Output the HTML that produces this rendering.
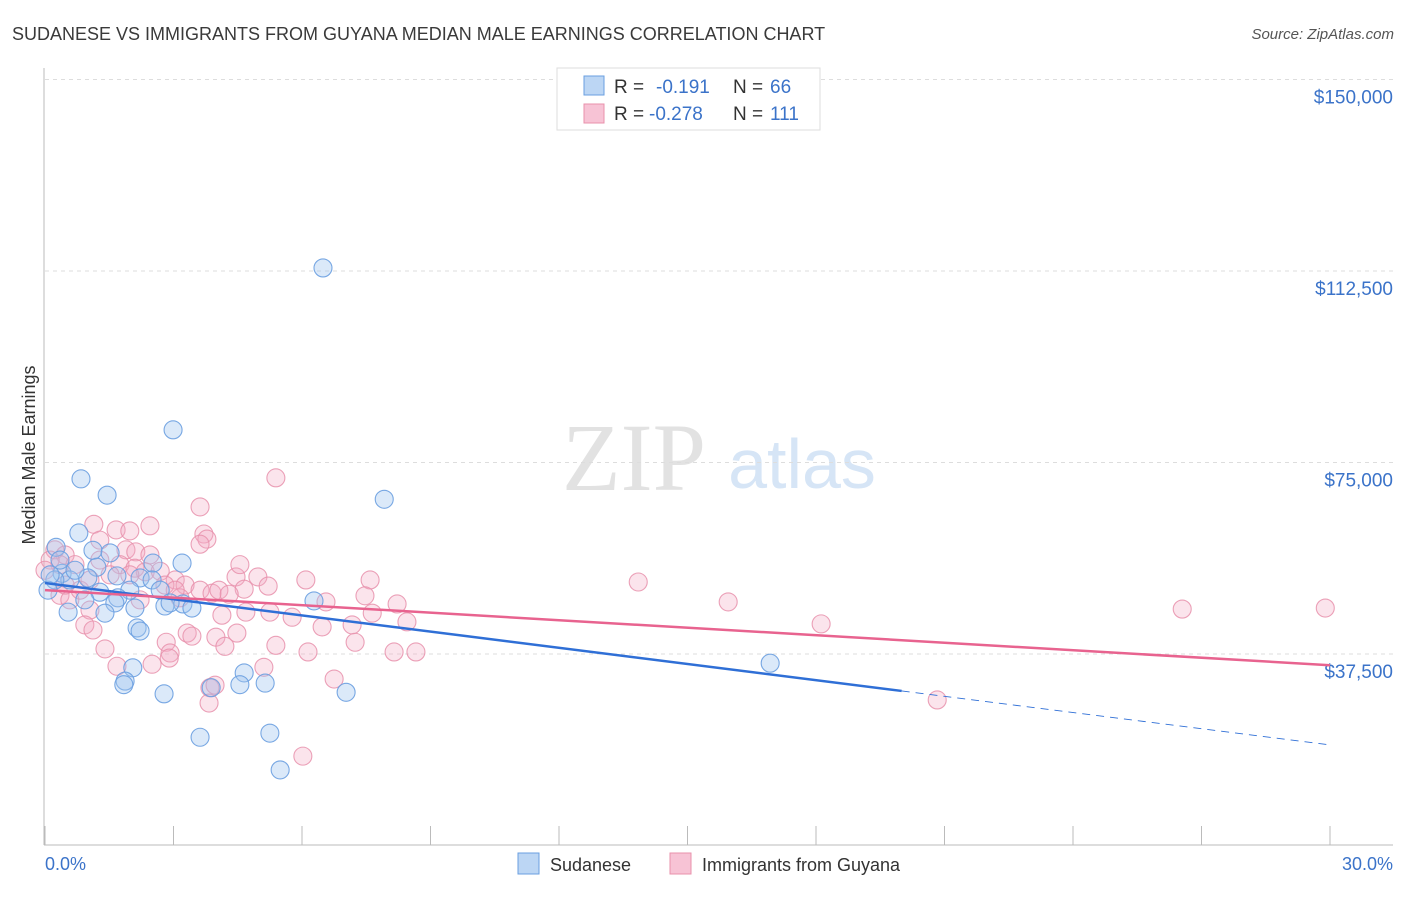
<!DOCTYPE html>
<html><head><meta charset="utf-8"><style>
body{margin:0;background:#fff;font-family:"Liberation Sans",sans-serif}
</style></head><body>
<svg width="1406" height="892" xmlns="http://www.w3.org/2000/svg">
<text x="12" y="40" font-size="18" fill="#3a3a3a">SUDANESE VS IMMIGRANTS FROM GUYANA MEDIAN MALE EARNINGS CORRELATION CHART</text>
<text x="1394" y="39" font-size="15" fill="#555" font-style="italic" text-anchor="end">Source: ZipAtlas.com</text>
<text x="634" y="490" font-size="96" fill="#e2e2e2" font-family="Liberation Serif,serif" text-anchor="middle">ZIP</text>
<text x="802" y="488" font-size="70" fill="#d6e5f6" text-anchor="middle">atlas</text>
<g id="grid"></g>
<g id="axes"></g>
<g id="pts"></g>
<g id="trend"></g>
<text transform="translate(35,455) rotate(-90)" font-size="18" fill="#333" text-anchor="middle">Median Male Earnings</text>
<text x="45" y="870" font-size="18" fill="#3b73c9">0.0%</text>
<text x="1393" y="870" font-size="18" fill="#3b73c9" text-anchor="end">30.0%</text>
<g>
<rect x="557" y="68" width="263" height="62" fill="#fff" stroke="#ddd"/>
<rect x="584" y="76" width="20" height="19" fill="#a0c4f0" fill-opacity="0.7" stroke="#6a9fe0"/>
<rect x="584" y="104" width="20" height="19" fill="#f4aac3" fill-opacity="0.7" stroke="#e890ab"/>
<text x="614" y="93" font-size="19" fill="#333">R =</text>
<text x="656" y="93" font-size="19" fill="#3b73c9">-0.191</text>
<text x="733" y="93" font-size="19" fill="#333">N =</text>
<text x="770" y="93" font-size="19" fill="#3b73c9">66</text>
<text x="614" y="120" font-size="19" fill="#333">R =</text>
<text x="649" y="120" font-size="19" fill="#3b73c9">-0.278</text>
<text x="733" y="120" font-size="19" fill="#333">N =</text>
<text x="770" y="120" font-size="19" fill="#3b73c9">111</text>
</g>
<g><rect x="518" y="853" width="21" height="21" fill="#a0c4f0" fill-opacity="0.7" stroke="#6a9fe0"/><text x="550" y="871" font-size="18" fill="#333">Sudanese</text></g>
<g><rect x="670" y="853" width="21" height="21" fill="#f4aac3" fill-opacity="0.7" stroke="#e890ab"/><text x="702" y="871" font-size="18" fill="#333">Immigrants from Guyana</text></g>
</svg>
<script>
const yTicks=[37500,75000,112500,150000];
const yTickLabels=["$37,500","$75,000","$112,500","$150,000"];
const blueX=[6.49,2.99,0.84,1.45,7.92,0.79,0.26,1.12,1.52,3.20,2.52,1.21,0.40,0.58,1.00,1.68,2.22,2.50,2.69,1.98,1.28,1.70,1.63,2.10,2.80,3.22,3.43,2.92,0.54,1.40,6.28,2.15,2.22,16.93,2.05,4.65,5.14,1.87,1.84,2.78,3.88,4.55,7.03,3.62,5.25,5.49,0.23,0.07,0.35,0.70,0.93,0.12];
const blueY=[113.1,81.4,71.8,68.6,67.8,61.2,58.4,57.8,57.3,55.3,55.3,54.5,53.3,52.0,52.4,52.8,52.4,52.0,50.0,50.0,49.6,48.5,47.5,46.5,46.9,47.3,46.5,47.5,45.7,45.5,47.9,42.6,42.0,35.7,34.8,33.8,31.8,32.2,31.5,29.7,30.9,31.5,30.0,21.2,22.0,14.8,52.0,50.0,55.9,53.9,48.1,53.0];
const pinkX=[5.39,3.62,1.14,2.45,1.66,1.98,3.71,3.78,3.62,0.23,0.47,1.89,2.12,2.45,0.35,0.70,1.75,2.10,2.34,2.69,3.04,3.27,3.62,4.46,4.97,6.09,7.59,13.85,4.65,5.21,3.90,4.06,4.30,3.15,6.56,7.47,8.22,8.45,7.64,5.77,5.25,4.69,15.95,26.55,29.89,6.47,7.17,4.13,1.05,0.93,1.12,4.48,3.99,3.32,3.43,4.20,5.39,6.14,2.83,1.40,1.68,2.50,2.92,8.15,8.66,5.11,7.24,2.90,3.85,3.97,3.83,6.75,6.02,18.12,20.83,0.35,0.58,1.28,1.52,0.12,0.0,0.82,2.22,4.55,1.28,1.98,1.05,0.47,2.80,3.04];
const pinkY=[72.0,66.3,62.9,62.6,61.8,61.6,61.0,60.0,59.0,57.9,56.9,57.9,57.5,56.9,55.0,55.0,55.0,54.3,53.6,53.7,52.0,51.0,50.0,52.6,52.6,52.0,52.0,51.6,50.2,50.8,49.4,50.0,49.2,48.5,47.7,48.9,47.3,43.8,45.5,44.7,45.7,45.7,47.7,46.3,46.5,42.8,43.2,45.1,46.1,43.2,42.2,41.6,40.8,41.6,41.0,39.0,39.2,37.9,39.8,38.5,35.1,35.5,37.7,37.9,37.9,34.9,39.8,36.7,30.9,31.4,27.9,32.6,17.5,43.4,28.5,49.0,48.1,55.9,53.0,55.9,53.9,50.0,48.1,55.0,59.8,53.0,52.0,51.0,51.0,50.0];
const blueTrend=[51.4,19.7]; const blueSolidEnd=20.0;
const pinkTrend=[50.0,35.3];
const NS="http://www.w3.org/2000/svg";
const X=v=>45+v/30*1285;
const Y=v=>845.5-v/37.5*191.5;
function mk(tag,attrs,parent){const e=document.createElementNS(NS,tag);for(const k in attrs)e.setAttribute(k,attrs[k]);document.getElementById(parent).appendChild(e);return e;}
yTicks.forEach((t,i)=>{
 const y=Y(t/1000);
 const g=mk('line',{x1:45,x2:1393,y1:y,y2:y,stroke:'#ddd','stroke-dasharray':'4,4'},'grid');
 
 
 const l=mk('text',{x:1393,y:y+24,'font-size':19,fill:'#3b73c9','text-anchor':'end'},'grid');
 l.textContent=yTickLabels[i];
 
 
});
mk('line',{x1:44,x2:44,y1:68,y2:845,stroke:'#bbb'},'axes');
mk('line',{x1:44,x2:1393,y1:845,y2:845,stroke:'#bbb'},'axes');
for(let i=0;i<=10;i++){const x=X(i*3);const t=mk('line',{x1:x,x2:x,y1:826,y2:845,stroke:'#bbb'},'axes');
 
 }
pinkX.forEach((v,i)=>{const c=mk('circle',{cx:X(v),cy:Y(pinkY[i]),r:9,fill:'#f4aac3','fill-opacity':0.32,stroke:'#e890ab','stroke-width':1.1,'stroke-opacity':0.85},'pts');
 
 });
blueX.forEach((v,i)=>{const c=mk('circle',{cx:X(v),cy:Y(blueY[i]),r:9,fill:'#a0c4f0','fill-opacity':0.38,stroke:'#6a9fe0','stroke-width':1.1,'stroke-opacity':0.9},'pts');
 
 });
const by=x=>blueTrend[0]+(blueTrend[1]-blueTrend[0])*x/30;
let l1=mk('line',{x1:X(0),y1:Y(by(0)),x2:X(blueSolidEnd),y2:Y(by(blueSolidEnd)),stroke:'#2f6fd6','stroke-width':2.5},'trend');


let l2=mk('line',{x1:X(blueSolidEnd),y1:Y(by(blueSolidEnd)),x2:X(30),y2:Y(by(30)),stroke:'#2f6fd6','stroke-width':1,'stroke-dasharray':'8,6'},'trend');


let l3=mk('line',{x1:X(0),y1:Y(pinkTrend[0]),x2:X(30),y2:Y(pinkTrend[1]),stroke:'#e8638f','stroke-width':2.5},'trend');


</script>
</body></html>
